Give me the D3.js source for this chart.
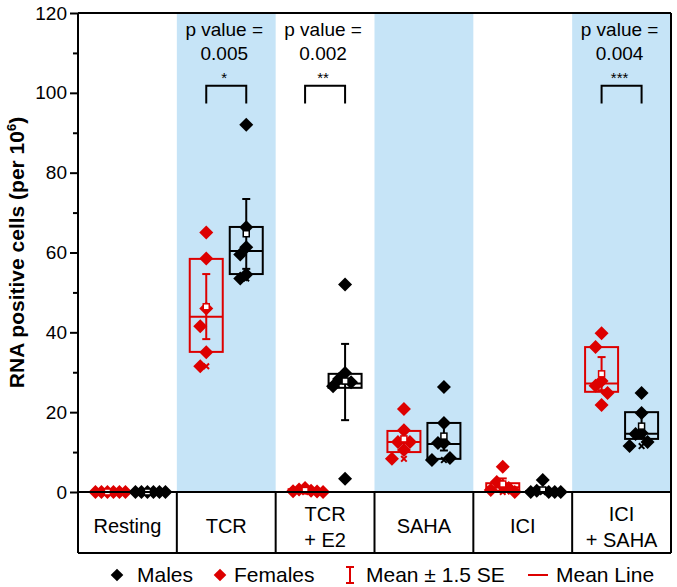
<!DOCTYPE html>
<html>
<head>
<meta charset="utf-8">
<script src="https://cdn.jsdelivr.net/npm/d3@7"></script>
<style>
  html, body { margin: 0; padding: 0; background: #fff; }
  svg { display: block; font-family: "Liberation Sans", Arial, sans-serif; }
</style>
</head>
<body>
<svg id="chart" width="677" height="587"></svg>
<script>
// ---------------- data ----------------
const categories = [["Resting"], ["TCR"], ["TCR", "+ E2"], ["SAHA"], ["ICI"], ["ICI", "+ SAHA"]];
const shaded = [false, true, false, true, false, true];
const yTicks = [0, 20, 40, 60, 80, 100, 120];
const yMinorTicks = [10, 30, 50, 70, 90, 110];

const femaleValues = [
  [0, 0, 0, 0, 0, 0],
  [65, 58.5, 46, 41.5, 35, 31.5],
  [1.0, 0.6, 0.3, 0.2, 0.1, 0],
  [20.8, 15.5, 12.5, 12.5, 10.5, 8.3],
  [6.3, 2.5, 1.5, 1.0, 0.5, 0],
  [39.8, 36.3, 27.8, 26.6, 24.8, 21.8]
];
const maleValues = [
  [0, 0, 0, 0, 0, 0],
  [92, 66.3, 61.3, 59.5, 54.5, 53.5],
  [52, 29.8, 28.3, 27.5, 26.5, 3.3],
  [26.3, 17.3, 12.3, 12.3, 8.5, 8.0],
  [3.0, 0.3, 0, 0, 0, 0],
  [24.8, 19.8, 14.8, 14.5, 12.5, 11.5]
];
// box: [q1, median, q3]
const femaleBox = [[0, 0, 0], [35.1, 43.9, 58.4], [0.1, 0.3, 0.7], [10.0, 12.5, 15.3], [0.3, 1.2, 2.2], [25.1, 27.2, 36.3]];
const maleBox   = [[0, 0, 0], [54.6, 60.4, 66.4], [26.1, 27.2, 29.6], [8.3, 12.0, 17.3], [0, 0, 0.2], [13.3, 14.6, 20.0]];
const femaleMean = [0, 46.4, 0.4, 13.3, 2.0, 29.6];
const maleMean   = [0, 64.7, 27.8, 14.0, 0.5, 16.5];
// mean ± 1.5 SE : [low, high]
const femaleErr = [[0, 0], [38.3, 54.6], [0.2, 0.6], [11.0, 15.6], [0.6, 3.4], [25.5, 33.8]];
const maleErr   = [[0, 0], [55.9, 73.4], [18.0, 37.1], [10.4, 17.6], [0, 1.0], [13.7, 19.3]];

const sigColumns = [1, 2, 5];
const sigPValues = ["0.005", "0.002", "0.004"];
const sigStars = ["*", "**", "***"];
const bracketTop = 101.8, bracketBottom = 97.3;

const legendLabels = ["Males", "Females", "Mean ± 1.5 SE", "Mean Line"];

// ---------------- layout ----------------
(function () {
const RED = "#dd0000", BLACK = "#000", BLUE = "#c6e4f7";
const pLeft = 78, pRight = 671, pTop = 13, axisY = 492, tableBottom = 553;
const svg = d3.select("#chart");

const y = d3.scaleLinear().domain([0, 120]).range([axisY, pTop]);
const col = d3.scaleBand().domain(d3.range(categories.length)).range([pLeft, pRight]).padding(0);
const sex = d3.scalePoint().domain(["F", "M"]).range([-20, 20]);
const gx = (i, s) => col(i) + col.bandwidth() / 2 + sex(s);

// shaded bands
svg.append("g").selectAll("rect").data(d3.range(categories.length).filter(i => shaded[i]))
  .join("rect")
  .attr("x", i => col(i)).attr("y", pTop)
  .attr("width", col.bandwidth()).attr("height", axisY - pTop)
  .attr("fill", BLUE);

// groups
const groups = [];
categories.forEach((c, i) => {
  groups.push({ i, s: "F", color: RED, vals: femaleValues[i], box: femaleBox[i], mean: femaleMean[i], err: femaleErr[i] });
  groups.push({ i, s: "M", color: BLACK, vals: maleValues[i], box: maleBox[i], mean: maleMean[i], err: maleErr[i] });
});

const boxW = 33;
const gBox = svg.append("g");
groups.forEach(g => {
  const cx = gx(g.i, g.s);
  const gg = gBox.append("g").attr("stroke", g.color).attr("fill", "none").attr("stroke-width", 2);
  gg.append("line").attr("x1", cx).attr("x2", cx).attr("y1", y(g.err[0])).attr("y2", y(g.err[1]));
  [g.err[0], g.err[1]].forEach(v => gg.append("line")
    .attr("x1", cx - 4).attr("x2", cx + 4).attr("y1", y(v)).attr("y2", y(v)));
  gg.append("rect").attr("x", cx - boxW / 2).attr("y", y(g.box[2]))
    .attr("width", boxW).attr("height", Math.max(0, y(g.box[0]) - y(g.box[2])));
  gg.append("line").attr("x1", cx - boxW / 2).attr("x2", cx + boxW / 2)
    .attr("y1", y(g.box[1])).attr("y2", y(g.box[1]));
  [d3.min(g.vals), d3.max(g.vals)].forEach(v => {
    gg.append("path").attr("d", d3.symbol(d3.symbolX, 22)())
      .attr("transform", `translate(${cx},${y(v)})`).attr("stroke-width", 2);
  });
});

// points with simple dodge
const diamond = d3.symbol(d3.symbolSquare, 98)();
const gPts = svg.append("g");
groups.forEach(g => {
  const cx = gx(g.i, g.s);
  const placed = [];
  const step = 6;
  const cands = [0, -1, 1, -2, 2, 3, -3, 4, -4].map(k => k * step);
  g.vals.forEach(v => {
    const py = y(v);
    let off = 0;
    for (const c of cands) {
      if (!placed.some(p => Math.abs(p.dx - c) < step && Math.abs(p.py - py) < 18)) { off = c; break; }
    }
    placed.push({ dx: off, py, v });
  });
  gPts.selectAll(null).data(placed).join("path")
    .attr("d", diamond)
    .attr("transform", p => `translate(${cx + p.dx},${p.py}) rotate(45)`)
    .attr("fill", g.color);
});

// mean squares
const gMean = svg.append("g");
groups.forEach(g => {
  const cx = gx(g.i, g.s);
  gMean.append("rect").attr("x", cx - 3).attr("y", y(g.mean) - 3).attr("width", 6).attr("height", 6)
    .attr("fill", "#fff").attr("stroke", g.color).attr("stroke-width", 1.5);
});

// frame
const frame = svg.append("g").attr("stroke", "#000").attr("stroke-width", 2).attr("fill", "none");
frame.append("line").attr("x1", pLeft).attr("x2", pRight).attr("y1", pTop).attr("y2", pTop);
frame.append("line").attr("x1", pRight).attr("x2", pRight).attr("y1", pTop).attr("y2", tableBottom);
frame.append("line").attr("x1", pLeft).attr("x2", pLeft).attr("y1", pTop).attr("y2", tableBottom);
frame.append("line").attr("x1", pLeft).attr("x2", pRight).attr("y1", axisY).attr("y2", axisY);
frame.append("line").attr("x1", pLeft).attr("x2", pRight).attr("y1", tableBottom).attr("y2", tableBottom);
d3.range(1, categories.length).forEach(i => frame.append("line")
  .attr("x1", col(i)).attr("x2", col(i)).attr("y1", axisY).attr("y2", tableBottom));

// y axis
const yAxis = svg.append("g").attr("transform", `translate(${pLeft},0)`)
  .call(d3.axisLeft(y).tickValues(yTicks).tickSize(8).tickPadding(3).tickFormat(d3.format("d")));
yAxis.select(".domain").remove();
yAxis.selectAll(".tick line").attr("stroke-width", 2);
yAxis.selectAll(".tick text").attr("font-size", 19).attr("fill", "#000")
  .attr("font-family", "Liberation Sans, Arial, sans-serif");
const yMinor = svg.append("g").attr("transform", `translate(${pLeft},0)`)
  .call(d3.axisLeft(y).tickValues(yMinorTicks).tickSize(5).tickFormat(""));
yMinor.select(".domain").remove();
yMinor.selectAll(".tick line").attr("stroke-width", 2);

// y title
const yt = svg.append("text")
  .attr("transform", `translate(24,${(pTop + axisY) / 2}) rotate(-90)`)
  .attr("text-anchor", "middle").attr("font-size", 21).attr("font-weight", "bold");
yt.append("tspan").text("RNA positive cells (per 10");
yt.append("tspan").text("6").attr("font-size", 13).attr("dy", -8);
yt.append("tspan").text(")").attr("dy", 8);

// category labels
const gCat = svg.append("g").attr("font-size", 20).attr("text-anchor", "middle");
categories.forEach((lines, i) => {
  const cx = col(i) + col.bandwidth() / 2;
  const t = gCat.append("text");
  if (lines.length === 1) {
    t.append("tspan").attr("x", cx).attr("y", 533).text(lines[0]);
  } else {
    t.append("tspan").attr("x", cx).attr("y", 521).text(lines[0]);
    t.append("tspan").attr("x", cx).attr("y", 547).text(lines[1]);
  }
});

// significance
const gSig = svg.append("g");
sigColumns.forEach((ci, k) => {
  const x1 = gx(ci, "F"), x2 = gx(ci, "M"), cx = col(ci) + col.bandwidth() / 2 - 2;
  gSig.append("path")
    .attr("d", `M${x1},${y(bracketBottom)}V${y(bracketTop)}H${x2}V${y(bracketBottom)}`)
    .attr("fill", "none").attr("stroke", "#000").attr("stroke-width", 2);
  const t = gSig.append("text").attr("text-anchor", "middle").attr("font-size", 19);
  t.append("tspan").attr("x", cx).attr("y", 36).text("p value =");
  t.append("tspan").attr("x", cx).attr("y", 60).text(sigPValues[k]);
  gSig.append("text").attr("x", cx).attr("y", 83).attr("text-anchor", "middle")
    .attr("font-size", 15).text(sigStars[k]);
});

// legend
const lg = svg.append("g").attr("font-size", 21);
const ly = 582, lcy = 575;
lg.append("path").attr("d", d3.symbol(d3.symbolSquare, 80)()).attr("transform", `translate(117,${lcy}) rotate(45)`).attr("fill", BLACK);
lg.append("text").attr("x", 137).attr("y", ly).text(legendLabels[0]);
lg.append("path").attr("d", d3.symbol(d3.symbolSquare, 80)()).attr("transform", `translate(220,${lcy}) rotate(45)`).attr("fill", RED);
lg.append("text").attr("x", 234).attr("y", ly).text(legendLabels[1]);
lg.append("path").attr("d", `M346,${lcy - 8}H354M350,${lcy - 8}V${lcy + 8}M346,${lcy + 8}H354`)
  .attr("stroke", RED).attr("stroke-width", 2).attr("fill", "none");
lg.append("text").attr("x", 366).attr("y", ly).text(legendLabels[2]);
lg.append("line").attr("x1", 528).attr("x2", 548).attr("y1", lcy).attr("y2", lcy).attr("stroke", RED).attr("stroke-width", 2);
lg.append("text").attr("x", 556).attr("y", ly).text(legendLabels[3]);
})();
</script>
</body>
</html>
